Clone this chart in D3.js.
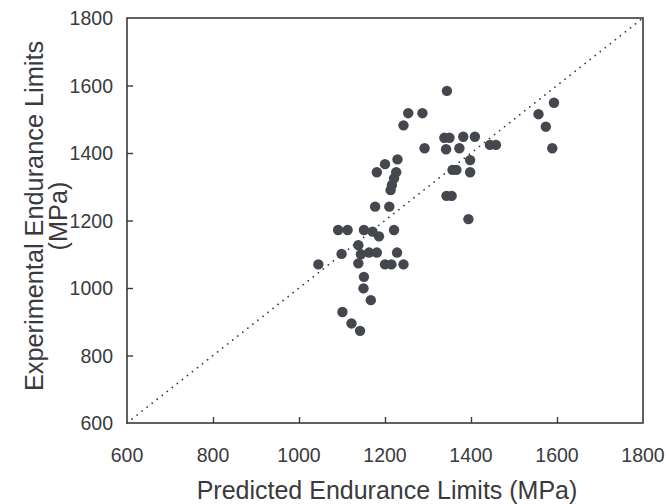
<!DOCTYPE html>
<html>
<head>
<meta charset="utf-8">
<script src="https://cdn.jsdelivr.net/npm/d3@7"></script>
<style>
  body { margin: 0; background: #fff; }
  text { font-family: "Liberation Sans", Arial, sans-serif; fill: #3a3a3e; }
</style>
</head>
<body>
<svg id="chart"></svg>
<script>
// predicted (x) and experimental (y) endurance limits, MPa
const predicted = [
  1344, 1254, 1287, 1243, 1338, 1350, 1382, 1409, 1444, 1458,
  1292, 1342, 1373, 1398, 1357, 1366, 1398, 1343, 1355, 1394,
  1593, 1557, 1574, 1589, 1200, 1229, 1181, 1226, 1221, 1216,
  1213, 1177, 1210, 1091, 1113, 1151, 1171, 1186, 1221, 1138,
  1099, 1144, 1163, 1181, 1228, 1138, 1045, 1200, 1215, 1243,
  1151, 1150, 1167, 1101, 1122, 1142
];
const experimental = [
  1584, 1518, 1518, 1482, 1445, 1445, 1448, 1448, 1424, 1424,
  1414, 1411, 1414, 1379, 1350, 1350, 1343, 1273, 1273, 1204,
  1549, 1515, 1478, 1414, 1367, 1381, 1343, 1343, 1325, 1305,
  1290, 1241, 1241, 1172, 1172, 1172, 1167, 1153, 1172, 1127,
  1101, 1100, 1105, 1105, 1105, 1073, 1070, 1070, 1070, 1070,
  1033, 999, 964, 929, 895, 873
];
const ticks = [600, 800, 1000, 1200, 1400, 1600, 1800];
const xTitle = "Predicted Endurance Limits (MPa)";
const yTitle = ["Experimental Endurance Limits", "(MPa)"];

const w = 669, h = 504;
const mLeft = 127, mRight = 643, mTop = 18, mBottom = 423;
const ink = "#3a3a3e";

const svg = d3.select("#chart").attr("width", w).attr("height", h);

const x = d3.scaleLinear().domain([600, 1800]).range([mLeft, mRight]);
const y = d3.scaleLinear().domain([600, 1800]).range([mBottom, mTop]);

// diagonal 1:1 line
svg.append("line")
  .attr("x1", x(600)).attr("y1", y(600))
  .attr("x2", x(1800)).attr("y2", y(1800))
  .attr("stroke", ink)
  .attr("stroke-width", 1.7)
  .attr("stroke-linecap", "round")
  .attr("stroke-dasharray", "0.1,6.3");

// points
svg.append("g").selectAll("circle")
  .data(predicted.map((p, i) => [p, experimental[i]]))
  .enter()
  .append("circle")
  .attr("cx", d => x(d[0]))
  .attr("cy", d => y(d[1]))
  .attr("r", 5.2)
  .attr("fill", "#45474f");

// frame
svg.append("rect")
  .attr("x", mLeft).attr("y", mTop)
  .attr("width", mRight - mLeft).attr("height", mBottom - mTop)
  .attr("fill", "none")
  .attr("stroke", ink)
  .attr("stroke-width", 1.6);

// axes with inward ticks
const inner = ticks.slice(1, -1);
svg.append("g")
  .attr("transform", `translate(0,${mBottom})`)
  .call(d3.axisBottom(x).tickValues(inner).tickSizeInner(-6).tickSizeOuter(0).tickFormat(""))
  .call(g => g.select(".domain").remove())
  .call(g => g.selectAll("line").attr("stroke", ink).attr("stroke-width", 1.4));

svg.append("g")
  .attr("transform", `translate(${mLeft},0)`)
  .call(d3.axisLeft(y).tickValues(inner).tickSizeInner(-6).tickSizeOuter(0).tickFormat(""))
  .call(g => g.select(".domain").remove())
  .call(g => g.selectAll("line").attr("stroke", ink).attr("stroke-width", 1.4));

// tick labels
svg.append("g").selectAll("text")
  .data(ticks)
  .enter()
  .append("text")
  .text(d => d)
  .attr("x", d => x(d))
  .attr("y", 462)
  .attr("font-size", "19.5px")
  .attr("text-anchor", "middle");

svg.append("g").selectAll("text")
  .data(ticks)
  .enter()
  .append("text")
  .text(d => d)
  .attr("x", 113)
  .attr("y", d => y(d))
  .attr("dy", "0.36em")
  .attr("font-size", "19.5px")
  .attr("text-anchor", "end");

// titles
svg.append("text")
  .text(xTitle)
  .attr("x", 387)
  .attr("y", 499)
  .attr("font-size", "25px")
  .attr("text-anchor", "middle");

svg.append("g").selectAll("text")
  .data(yTitle)
  .enter()
  .append("text")
  .text(d => d)
  .attr("transform", (d, i) => `translate(${43 + i * 24},216) rotate(-90)`)
  .attr("font-size", "25.3px")
  .attr("text-anchor", "middle");
</script>
</body>
</html>
